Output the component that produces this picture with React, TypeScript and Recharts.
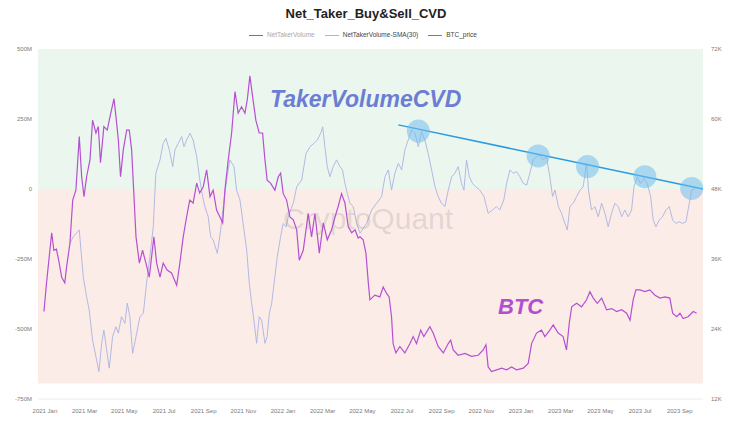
import {
  LineChart,
  Line,
  XAxis,
  YAxis,
  CartesianGrid,
  ReferenceArea,
  ReferenceLine,
  ReferenceDot,
} from "recharts";

// x axis = months since 2021 Jan
const monthTicks = [0, 2, 4, 6, 8, 10, 12, 14, 16, 18, 20, 22, 24, 26, 28, 30, 32];
const monthLabels = [
  "2021 Jan", "2021 Mar", "2021 May", "2021 Jul", "2021 Sep", "2021 Nov",
  "2022 Jan", "2022 Mar", "2022 May", "2022 Jul", "2022 Sep", "2022 Nov",
  "2023 Jan", "2023 Mar", "2023 May", "2023 Jul", "2023 Sep",
];
const leftTicks = [-750, -500, -250, 0, 250, 500];
const rightTicks = [12, 24, 36, 48, 60, 72];

// BTC price (K USD)
const btcMonths = [
  -0.05, 0.08, 0.34, 0.45, 0.58, 0.72, 0.84, 1.0, 1.09, 1.26, 1.4, 1.56, 1.73, 1.85, 1.97,
  2.1, 2.27, 2.4, 2.57, 2.69, 2.8, 2.97, 3.14, 3.28, 3.48, 3.58, 3.7, 3.81, 3.95, 4.12,
  4.25, 4.37, 4.59, 4.76, 4.92, 5.09, 5.26, 5.49, 5.63, 5.8, 5.96, 6.16, 6.38, 6.64, 6.8,
  6.97, 7.14, 7.3, 7.47, 7.65, 7.8, 7.98, 8.15, 8.32, 8.48, 8.65, 8.82, 8.96, 9.07, 9.24,
  9.41, 9.58, 9.74, 9.91, 10.08, 10.2, 10.33, 10.47, 10.63, 10.8, 10.97, 11.09, 11.2, 11.37,
  11.59, 11.76, 11.88, 12.01, 12.18, 12.35, 12.52, 12.69, 12.82, 13.02, 13.27, 13.44, 13.61,
  13.83, 14.03, 14.23, 14.45, 14.62, 14.78, 14.95, 15.12, 15.29, 15.46, 15.63, 15.79, 15.88,
  16.04, 16.18, 16.3, 16.38, 16.63, 16.88, 17.05, 17.22, 17.35, 17.47, 17.55, 17.69, 17.89,
  18.14, 18.4, 18.56, 18.73, 18.94, 19.1, 19.4, 19.57, 19.82, 20.08, 20.33, 20.45, 20.58,
  20.83, 21.17, 21.5, 21.84, 22.09, 22.23, 22.34, 22.51, 22.77, 23.02, 23.27, 23.52, 23.77,
  24.11, 24.36, 24.53, 24.78, 25.03, 25.2, 25.45, 25.62, 25.87, 26.12, 26.29, 26.43, 26.55,
  26.8, 27.05, 27.3, 27.47, 27.64, 27.84, 28.06, 28.31, 28.57, 28.82, 29.07, 29.32, 29.49,
  29.65, 29.79, 29.99, 30.24, 30.49, 30.75, 31.0, 31.25, 31.5, 31.64, 31.84, 32.01, 32.17,
  32.42, 32.68, 32.85,
];
const btcPrice = [
  27.0, 31.9, 40.5, 37.5, 37.7, 35.3, 32.9, 31.9, 34.6, 38.7, 46.1, 47.8, 57.0, 50.1, 46.7,
  50.1, 53.0, 59.8, 57.6, 58.7, 52.5, 58.7, 58.1, 60.4, 63.5, 60.4, 56.4, 50.1, 54.7, 58.1,
  58.1, 54.7, 39.8, 35.3, 37.5, 35.3, 32.9, 39.8, 35.3, 32.9, 35.3, 34.1, 33.6, 31.5, 35.3,
  39.8, 43.2, 46.1, 45.6, 49.0, 47.3, 48.4, 51.3, 46.7, 47.8, 44.4, 43.2, 42.2, 47.8, 53.0,
  57.6, 64.7, 61.0, 62.1, 61.0, 63.3, 67.4, 63.8, 59.8, 57.6, 57.6, 53.0, 49.5, 49.0,
  47.8, 50.1, 50.7, 47.2, 46.1, 43.2, 42.7, 41.0, 35.8, 37.5, 43.8, 39.8, 43.8,
  37.0, 42.2, 39.3, 41.0, 43.2, 45.0, 47.2, 45.6, 41.5, 40.5, 41.0, 39.6, 39.8,
  39.3, 37.0, 31.9, 29.0, 29.8, 29.5, 31.2, 30.1, 29.5, 26.1, 21.5, 19.9, 21.0,
  19.9, 21.5, 22.7, 21.5, 23.8, 22.7, 24.4, 23.3, 21.0, 19.9, 21.5, 22.1, 20.4,
  19.5, 19.8, 19.3, 19.5, 20.4, 21.3, 17.5, 16.7, 17.0, 17.3, 17.0, 17.5, 17.0,
  17.3, 18.1, 21.5, 23.3, 23.8, 22.7, 23.8, 24.7, 23.3, 22.7, 20.4, 25.0, 27.8,
  28.4, 27.8, 29.0, 30.4, 29.3, 28.4, 29.3, 27.3, 27.5, 27.0, 27.3, 26.7, 25.5,
  29.0, 30.7, 30.7, 30.4, 30.7, 29.8, 29.3, 29.5, 29.3, 26.7, 26.1, 26.7, 25.8,
  26.1, 27.0, 26.7,
];

// NetTakerVolume-SMA(30) CVD (M)
const cvdMonths = [
  1.26, 1.43, 1.73, 1.93, 2.1, 2.23, 2.4, 2.57, 2.72, 2.86, 2.97, 3.11, 3.24, 3.41, 3.58,
  3.7, 3.86, 4.03, 4.15, 4.28, 4.42, 4.59, 4.79, 4.96, 5.12, 5.29, 5.46, 5.59, 5.8, 5.96,
  6.1, 6.27, 6.44, 6.55, 6.72, 6.89, 7.01, 7.14, 7.31, 7.47, 7.65, 7.81, 7.95, 8.06, 8.23,
  8.35, 8.48, 8.69, 8.86, 8.99, 9.16, 9.32, 9.53, 9.66, 9.83, 9.99, 10.17, 10.3, 10.42,
  10.53, 10.67, 10.8, 10.92, 11.09, 11.2, 11.31, 11.43, 11.59, 11.71, 11.88, 12.01, 12.15,
  12.31, 12.52, 12.69, 12.94, 13.16, 13.36, 13.56, 13.73, 13.9, 14.0, 14.11, 14.23, 14.36,
  14.53, 14.7, 14.87, 15.0, 15.12, 15.24, 15.37, 15.54, 15.71, 15.88, 16.21, 16.47, 16.72,
  16.97, 17.14, 17.31, 17.47, 17.64, 17.81, 17.98, 18.14, 18.31, 18.48, 18.65, 18.82, 18.98,
  19.15, 19.32, 19.49, 19.66, 19.82, 19.99, 20.16, 20.33, 20.5, 20.66, 20.83, 21.0, 21.12,
  21.25, 21.39, 21.55, 21.72, 21.92, 22.13, 22.34, 22.56, 22.76, 22.93, 23.13, 23.27, 23.44,
  23.6, 23.77, 23.94, 24.11, 24.28, 24.44, 24.61, 24.78, 24.95, 25.12, 25.28, 25.45, 25.59,
  25.71, 25.88, 26.04, 26.21, 26.33, 26.46, 26.63, 26.8, 26.97, 27.13, 27.3, 27.4, 27.55,
  27.72, 27.89, 28.06, 28.23, 28.39, 28.56, 28.73, 28.9, 29.07, 29.23, 29.4, 29.57, 29.69,
  29.86, 30.02, 30.19, 30.36, 30.53, 30.66, 30.8, 30.96, 31.13, 31.3, 31.47, 31.64, 31.8,
  31.97, 32.14, 32.31, 32.48, 32.6, 32.77,
];
const cvdValues = [
  -194, -170, -146, -313, -385, -432, -539, -599, -652, -551, -504, -575, -640, -527, -492,
  -515, -456, -480, -408, -456, -587, -527, -456, -444, -337, -242, -135, 56, 104, 163,
  181, 139, 80, 139, 163, 187, 151, 175, 199, 175, 115, 32, -27, -63, -99,
  -170, -182, -230, -146, -63, 32, 104, 80, -4, -39, -123, -218, -337, -408,
  -468, -551, -456, -468, -551, -527, -444, -408, -313, -242, -170, -123, -135,
  -87, -51, 8, 32, 127, 151, 163, 175, 199, 222, 151, 80, 44,
  80, 104, 80, 68, 20, -15, -51, -63, -123, -158, -123, -75, -51,
  -27, 44, 68, -4, 56, 92, 68, 139, 175, 211, 199, 151, 205,
  175, 127, 68, 8, -27, -51, -63, -4, 44, 56, 80, 20, -4,
  104, 44, 20, 8, -4, -27, -87, -75, -63, -75, -39, 20, 68,
  56, 62, 44, 20, 14, 56, 104, 115, 121, 104, 115, 44, -27,
  -4, -63, -87, -123, -146, -63, -51, -27, -4, 8, 92, -4, -75,
  -63, -99, -51, -87, -135, -87, -51, -63, -99, -75, -99, -75, 8,
  44, 20, 38, 20, -27, -111, -135, -111, -99, -75, -63, -111, -123,
  -117, -123, -117, -51, -4, 2,
];

// highlighted CVD peaks and the falling trend line through them
const peakMonths = [18.82, 24.86, 27.35, 30.24, 32.6];
const peakValues = [207, 118, 80, 44, 2];
const trendMonths = [17.81, 33.17];
const trendValues = [229, 0];

const btcData = btcMonths.map((m, i) => ({ m, price: btcPrice[i] }));
const cvdData = cvdMonths.map((m, i) => ({ m, cvd: cvdValues[i] }));

const BTC_COLOR = "#b550d2";
const CVD_COLOR = "#a9b3e2";
const FONT = "'Liberation Sans', Arial, Helvetica, sans-serif";

const tickStyle = { fontSize: 6, fill: "#7a7a7a", fontFamily: FONT };

function LegendItem({ color, label, muted }: { color: string; label: string; muted?: boolean }) {
  return (
    <div style={{ display: "flex", alignItems: "center", marginRight: 10 }}>
      <div style={{ width: 14, height: 1, background: color, marginRight: 4 }} />
      <span style={{ color: muted ? "#a8a8a8" : "#444" }}>{label}</span>
    </div>
  );
}

export default function App() {
  return (
    <div
      style={{
        position: "absolute",
        left: 0,
        top: 0,
        width: 743,
        height: 430,
        background: "#fff",
        fontFamily: FONT,
      }}
    >
      <LineChart width={743} height={430} margin={{ top: 49, right: 0, bottom: 11, left: 0 }}>
        <ReferenceArea yAxisId="left" y1={0} y2={500} fill="#ebf6ee" fillOpacity={1} stroke="none" />
        <ReferenceArea yAxisId="left" y1={-695} y2={0} fill="#fcece7" fillOpacity={1} stroke="none" />
        <CartesianGrid yAxisId="left" vertical={false} stroke="#ffffff" strokeOpacity={0.7} />
        <XAxis
          dataKey="m"
          type="number"
          domain={[-0.35, 33.17]}
          ticks={monthTicks}
          tickFormatter={(v: number) => monthLabels[monthTicks.indexOf(v)] ?? ""}
          tick={tickStyle}
          tickLine={false}
          tickSize={0}
          tickMargin={10}
          axisLine={{ stroke: "#ececec" }}
          height={20}
          interval={0}
        />
        <YAxis
          yAxisId="left"
          domain={[-750, 500]}
          ticks={leftTicks}
          tickFormatter={(v: number) => (v === 0 ? "0" : `${v}M`)}
          tick={tickStyle}
          tickLine={false}
          axisLine={false}
          tickSize={0}
          tickMargin={6}
          width={38}
          interval={0}
        />
        <YAxis
          yAxisId="right"
          orientation="right"
          domain={[12, 72]}
          ticks={rightTicks}
          tickFormatter={(v: number) => `${v}K`}
          tick={tickStyle}
          tickLine={false}
          axisLine={false}
          tickSize={0}
          tickMargin={8}
          width={40}
          interval={0}
        />
        <Line
          data={cvdData}
          dataKey="cvd"
          yAxisId="left"
          stroke={CVD_COLOR}
          strokeWidth={0.9}
          dot={false}
          type="linear"
          isAnimationActive={false}
        />
        <Line
          data={btcData}
          dataKey="price"
          yAxisId="right"
          stroke={BTC_COLOR}
          strokeWidth={1.2}
          dot={false}
          type="linear"
          isAnimationActive={false}
        />
        {peakMonths.map((m, i) => (
          <ReferenceDot
            key={i}
            yAxisId="left"
            x={m}
            y={peakValues[i]}
            r={11.5}
            fill="#72bdee"
            fillOpacity={0.55}
            stroke="none"
          />
        ))}
        <ReferenceLine
          yAxisId="left"
          segment={[
            { x: trendMonths[0], y: trendValues[0] },
            { x: trendMonths[1], y: trendValues[1] },
          ]}
          stroke="#2a9be2"
          strokeWidth={1.5}
          ifOverflow="visible"
        />
      </LineChart>

      {/* title + legend */}
      <div
        style={{
          position: "absolute",
          top: 6,
          left: 0,
          width: 732,
          textAlign: "center",
          fontSize: 13,
          fontWeight: 700,
          color: "#222",
        }}
      >
        Net_Taker_Buy&amp;Sell_CVD
      </div>
      <div
        style={{
          position: "absolute",
          top: 30,
          left: 249,
          display: "flex",
          fontSize: 6.5,
          lineHeight: "10px",
        }}
      >
        <LegendItem color="#777" label="NetTakerVolume" muted />
        <LegendItem color={CVD_COLOR} label="NetTakerVolume-SMA(30)" />
        <LegendItem color={BTC_COLOR} label="BTC_price" />
      </div>

      {/* annotations */}
      <div
        style={{
          position: "absolute",
          left: 283,
          top: 202,
          fontSize: 30,
          color: "rgba(120,120,120,0.2)",
          pointerEvents: "none",
        }}
      >
        CryptoQuant
      </div>
      <div
        style={{
          position: "absolute",
          left: 270,
          top: 86,
          fontSize: 23,
          fontWeight: 700,
          fontStyle: "italic",
          color: "#6b7ed3",
        }}
      >
        TakerVolumeCVD
      </div>
      <div
        style={{
          position: "absolute",
          left: 498,
          top: 294,
          fontSize: 22,
          fontWeight: 700,
          fontStyle: "italic",
          color: "#b24fd0",
        }}
      >
        BTC
      </div>
    </div>
  );
}
